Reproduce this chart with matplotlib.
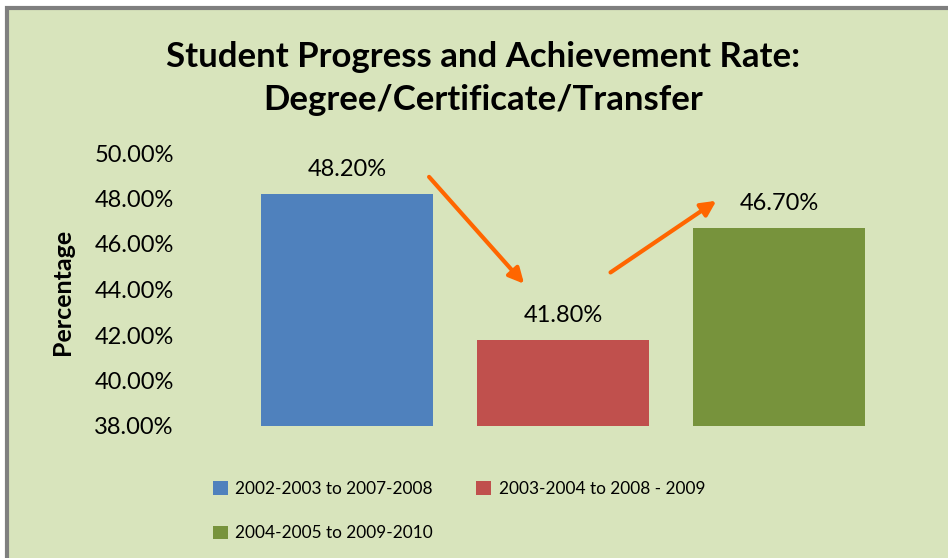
import numpy as np
import matplotlib
matplotlib.use("Agg")
import matplotlib.pyplot as plt
from matplotlib.patches import Rectangle

categories = ["2002-2003 to 2007-2008", "2003-2004 to 2008 - 2009", "2004-2005 to 2009-2010"]
values = [48.2, 41.8, 46.7]
colors = ["#4F81BD", "#C0504D", "#77933C"]
yticks = [38, 40, 42, 44, 46, 48, 50]
# arrows: (x0, y0) -> (x1, y1) in data coordinates
arrows = [((0.38, 48.95), (0.82, 44.25)), ((1.22, 44.75), (1.71, 47.9))]

plt.rcParams['font.family'] = ['Lato', 'DejaVu Sans']
bg = "#D8E4BC"

fig = plt.figure(figsize=(9.48, 5.58), dpi=100)
fig.patch.set_facecolor("white")
fig.patches.append(Rectangle((7 / 948, -0.05), 1.1, 1 - 8 / 558 + 0.05, transform=fig.transFigure,
                             facecolor=bg, edgecolor="#7F7F7F", linewidth=3, zorder=-5))

ax = fig.add_axes([239 / 948, 132 / 558, 648 / 948, 273 / 558])
ax.set_zorder(2)
ax.set_facecolor("none")
x = np.arange(len(values))
bars = ax.bar(x, [v - 38 for v in values], bottom=38, width=0.8, color=colors)
ax.set_xlim(-0.5, 2.5)
ax.set_ylim(38, 50)
ax.set_yticks(yticks)
ax.set_yticklabels([f"{t:.2f}%" for t in yticks], fontsize=17)
ax.tick_params(axis="y", length=0, pad=47)
ax.set_xticks([])
for s in ax.spines.values():
    s.set_visible(False)

for xi, v in zip(x, values):
    ax.text(xi, v + 0.6, f"{v:.2f}%", ha="center", va="bottom", fontsize=17)

for (x0, y0), (x1, y1) in arrows:
    ax.annotate("", xy=(x1, y1), xytext=(x0, y0),
                arrowprops=dict(arrowstyle="-|>,head_length=0.9,head_width=0.45",
                                color="#FF6600", lw=3, shrinkA=0, shrinkB=0))

fig.text(63 / 948, 1 - 292 / 558, "Percentage", rotation=90, ha="center", va="center",
         fontsize=18, fontweight="bold")

fig.text(483 / 948, 1 - 57 / 558, "Student Progress and Achievement Rate:", ha="center", va="center",
         fontsize=25, fontweight="bold")
fig.text(483 / 948, 1 - 100 / 558, "Degree/Certificate/Transfer", ha="center", va="center",
         fontsize=25, fontweight="bold")

order = [0, 2, 1]
fig.legend([bars[i] for i in order], [categories[i] for i in order], loc="upper left",
           bbox_to_anchor=(213 / 948, 1 - 481 / 558), borderaxespad=0, borderpad=0,
           ncol=2, frameon=False, fontsize=12.4, handlelength=0.85, handleheight=0.85,
           handletextpad=0.45, columnspacing=2.5, labelspacing=1.65)

fig.savefig("out.png", dpi=100)
